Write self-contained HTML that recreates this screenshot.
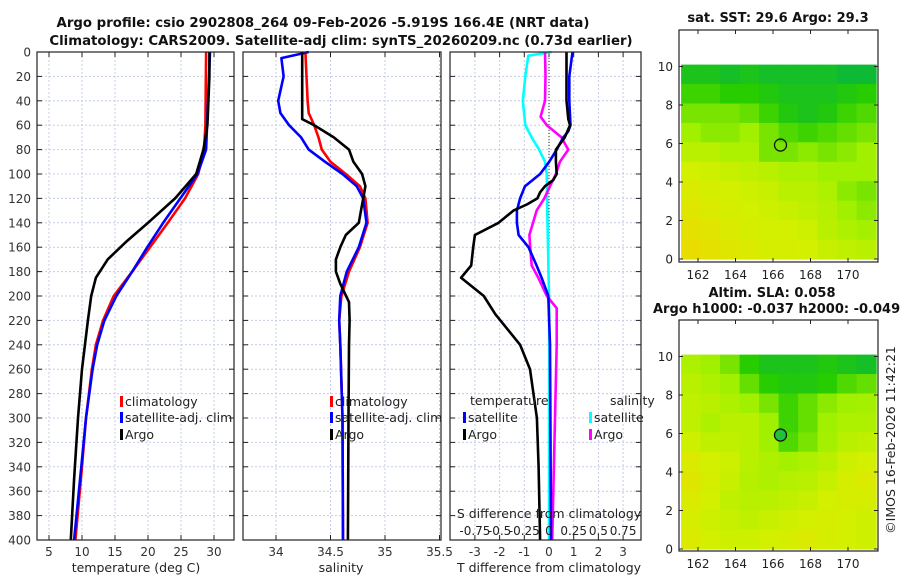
<!DOCTYPE html>
<html><head><meta charset="utf-8">
<style>
html,body{margin:0;padding:0;background:#fff;}
svg{display:block;font-family:"DejaVu Sans","Liberation Sans",sans-serif;}
</style></head>
<body>
<svg id="chart" width="900" height="580" viewBox="0 0 900 580" xmlns="http://www.w3.org/2000/svg">
<rect width="900" height="580" fill="#fff"/>
<text x="323" y="27" text-anchor="middle" font-size="13.3" font-weight="bold" fill="#111">Argo profile: csio 2902808_264 09-Feb-2026 -5.919S 166.4E (NRT data)</text>
<text x="341" y="45" text-anchor="middle" font-size="13.3" font-weight="bold" fill="#111">Climatology: CARS2009. Satellite-adj clim: synTS_20260209.nc (0.73d earlier)</text>
<g id="plots"></g>
<text x="778" y="22" text-anchor="middle" font-size="13" font-weight="bold" fill="#111">sat. SST: 29.6 Argo: 29.3</text>
<text x="772" y="297" text-anchor="middle" font-size="13" font-weight="bold" fill="#111">Altim. SLA: 0.058</text>
<text x="653" y="313" font-size="13" font-weight="bold" fill="#111">Argo h1000: -0.037 h2000: -0.049</text>
<text transform="translate(895,440) rotate(-90)" text-anchor="middle" font-size="12.5" fill="#222">©IMOS 16-Feb-2026 11:42:21</text>
</svg>
<script>
// ---------- data ----------
const depthTicks=[0,20,40,60,80,100,120,140,160,180,200,220,240,260,280,300,320,340,360,380,400];
const tTicks=[5,10,15,20,25,30];
const sTicks=[34,34.5,35,35.5];
const dtTicks=[-3,-2,-1,0,1,2,3];
const dsTickLabels=["-0.75","-0.5","-0.25","0","0.25","0.5","0.75"];
const dsTickValues=[-0.75,-0.5,-0.25,0,0.25,0.5,0.75];

const climTD=[0,60,80,100,120,140,160,180,200,220,240,260,300,340,400];
const climT=[28.8,28.7,28.5,27.6,25.6,23.0,20.3,17.6,14.8,13.2,12.1,11.5,10.6,10.0,9.0];
const satTD=[0,80,100,120,140,160,180,200,220,240,260,300,340,400];
const satT=[29.4,28.8,27.5,24.9,22.3,19.9,17.6,15.2,13.4,12.3,11.6,10.6,9.9,8.8];
const argoTD=[0,20,60,80,100,120,140,155,170,185,200,220,260,300,350,400];
const argoT=[29.3,29.3,29.0,28.4,27.3,24.1,20.0,16.8,13.9,12.1,11.4,10.9,10.0,9.4,8.8,8.3];

const climSD=[0,20,40,50,60,70,80,90,100,110,120,140,160,180,200,220,240,300,400];
const climS=[34.27,34.28,34.29,34.30,34.35,34.39,34.42,34.50,34.64,34.77,34.82,34.84,34.77,34.67,34.60,34.58,34.59,34.61,34.615];
const satSD=[0,5,20,40,50,60,70,80,90,100,110,120,140,160,180,200,220,240,300,400];
const satS=[34.30,34.05,34.07,34.02,34.04,34.12,34.23,34.30,34.45,34.61,34.74,34.80,34.83,34.76,34.65,34.59,34.58,34.59,34.61,34.615];
const argoSD=[0,20,40,55,60,70,80,90,100,110,120,140,150,160,170,180,190,205,220,240,300,400];
const argoS=[34.24,34.24,34.24,34.24,34.35,34.53,34.67,34.71,34.79,34.82,34.80,34.76,34.64,34.59,34.55,34.55,34.59,34.67,34.675,34.67,34.665,34.66];

const dTargoD=[0,20,40,55,60,70,80,90,100,105,110,115,120,125,130,140,150,160,175,185,200,215,240,260,300,340,400];
const dTargo=[0.71,0.71,0.71,0.78,0.85,0.64,0.28,0.28,0.31,0.17,-0.16,-0.36,-0.47,-0.9,-1.44,-2.04,-3.0,-3.07,-3.15,-3.56,-2.64,-2.17,-1.17,-0.77,-0.49,-0.42,-0.36];
const dTsatD=[0,20,40,60,65,70,80,90,100,110,120,130,140,150,160,175,185,200,240,400];
const dTsat=[0.95,0.82,0.82,0.87,0.78,0.58,0.31,0.01,-0.36,-0.97,-1.17,-1.30,-1.30,-1.23,-0.83,-0.5,-0.3,-0.03,0.04,0.08];
const dSsatD=[0,3,20,40,60,70,80,90,100,120,160,200,240,400];
const dSsat=[0.027,-0.21,-0.24,-0.265,-0.24,-0.175,-0.10,-0.04,-0.022,-0.02,-0.01,0,0.002,0];
const dSargoD=[0,20,40,53,60,70,75,80,90,100,110,120,130,150,160,175,185,200,210,240,400];
const dSargo=[-0.04,-0.035,-0.04,-0.085,-0.022,0.127,0.16,0.195,0.11,0.07,0.01,-0.048,-0.125,-0.198,-0.19,-0.175,-0.108,-0.022,0.078,0.078,0.032];

const mapLonTicks=[162,164,166,168,170];
const mapLatTicks=[0,2,4,6,8,10];
const sstGrid=[
[0.2,0.2,0.15,0.2,0.15,0.15,0.15,0.15,0.1,0.1],
[0.35,0.35,0.3,0.3,0.25,0.2,0.2,0.2,0.25,0.3],
[0.5,0.5,0.5,0.45,0.35,0.25,0.2,0.25,0.35,0.4],
[0.6,0.55,0.55,0.6,0.5,0.4,0.35,0.4,0.45,0.5],
[0.7,0.7,0.65,0.65,0.5,0.5,0.55,0.5,0.55,0.6],
[0.8,0.78,0.75,0.72,0.7,0.65,0.65,0.6,0.6,0.6],
[0.85,0.82,0.8,0.78,0.75,0.7,0.7,0.65,0.55,0.5],
[0.88,0.85,0.82,0.8,0.78,0.75,0.72,0.68,0.6,0.55],
[0.92,0.9,0.85,0.82,0.8,0.8,0.78,0.7,0.65,0.62],
[0.95,0.92,0.88,0.85,0.82,0.82,0.8,0.75,0.72,0.7]];
const slaGrid=[
[0.65,0.6,0.5,0.3,0.2,0.2,0.2,0.25,0.2,0.15],
[0.7,0.65,0.6,0.45,0.3,0.25,0.25,0.3,0.4,0.45],
[0.72,0.7,0.65,0.6,0.5,0.35,0.45,0.55,0.6,0.62],
[0.72,0.65,0.7,0.7,0.6,0.35,0.45,0.6,0.65,0.65],
[0.78,0.72,0.72,0.7,0.6,0.4,0.5,0.62,0.7,0.72],
[0.85,0.8,0.78,0.7,0.65,0.62,0.65,0.7,0.78,0.8],
[0.88,0.82,0.75,0.68,0.65,0.68,0.7,0.75,0.82,0.85],
[0.85,0.8,0.72,0.7,0.7,0.72,0.75,0.8,0.82,0.82],
[0.82,0.78,0.75,0.72,0.75,0.78,0.8,0.82,0.8,0.78],
[0.85,0.8,0.78,0.78,0.8,0.82,0.85,0.82,0.8,0.78]];
const argoLon=166.4, argoLat=5.919;

// ---------- drawing ----------
const NS="http://www.w3.org/2000/svg";
const root=document.getElementById('plots');
function mk(tag,attrs,parent){const e=document.createElementNS(NS,tag);for(const k in attrs)e.setAttribute(k,attrs[k]);(parent||root).appendChild(e);return e;}
const yD=d=>52+d*1.22;
const TOP=52,BOT=540;
const xT=t=>49+(t-5)*6.6;
const xS=s=>276+(s-34)*109;
const xDT=v=>549+v*24.7;
const xDS=v=>549+v*4*24.7;
const FS=12;

function panel(name,x0,x1,xticks,xf,labels,showY){
  const g=mk('g',{});
  
  
  depthTicks.forEach(d=>{
    const l=mk('line',{x1:x0,x2:x1,y1:yD(d),y2:yD(d),stroke:'#c4cbe6','stroke-width':1,'stroke-dasharray':'2,2'},g);
    
    
    mk('line',{x1:x0,x2:x0+5,y1:yD(d),y2:yD(d),stroke:'#222'},g);
    mk('line',{x1:x1-5,x2:x1,y1:yD(d),y2:yD(d),stroke:'#222'},g);
    if(showY){const t=mk('text',{x:x0-6,y:yD(d)+4.5,'text-anchor':'end','font-size':FS,fill:'#333'},g);t.textContent=d;
      
      }
  });
  xticks.forEach((v,i)=>{
    const x=xf(v);
    const l=mk('line',{x1:x,x2:x,y1:TOP,y2:BOT,stroke:'#c4cbe6','stroke-width':1,'stroke-dasharray':'2,2'},g);
    
    
    mk('line',{x1:x,x2:x,y1:BOT-5,y2:BOT,stroke:'#222'},g);
    mk('line',{x1:x,x2:x,y1:TOP,y2:TOP+5,stroke:'#222'},g);
    const t=mk('text',{x:x,y:556,'text-anchor':'middle','font-size':FS,fill:'#333'},g);t.textContent=labels[i];
    
    
  });
  return g;
}
function line(g,name,ds,vs,xf,color,extra){
  const p=mk('polyline',Object.assign({points:ds.map((d,i)=>xf(vs[i]).toFixed(1)+','+yD(d).toFixed(1)).join(' '),fill:'none',stroke:color,'stroke-width':2.6,'stroke-linejoin':'round'},extra||{}),g);
  
  
}
function frame(g,x0,x1){const r=mk('rect',{x:x0,y:TOP,width:x1-x0,height:BOT-TOP,fill:'none',stroke:'#222','stroke-width':1.2},g);
  
  }
function txt(g,name,x,y,s,anchor,size){const t=mk('text',{x:x,y:y,'text-anchor':anchor||'start','font-size':size||FS,fill:'#222'},g);t.textContent=s;
  
  return t;}
function legendItem(g,name,x,y,color,label){
  const r=mk('rect',{x:x,y:y-10,width:3,height:11,fill:color},g);
  
  
  txt(g,name,x+5,y,label,'start',12.5);
}

// Panel 1
let g1=panel('temperature-panel',37,234,tTicks,xT,tTicks.map(String),true);
line(g1,'temp-climatology-line',climTD,climT,xT,'#ff0000');
line(g1,'temp-satellite-line',satTD,satT,xT,'#0000ff');
line(g1,'temp-argo-line',argoTD,argoT,xT,'#000000');
frame(g1,37,234);
legendItem(g1,'legend-climatology',120,406,'#ff0000','climatology');
legendItem(g1,'legend-satellite-adj',120,422,'#0000ff','satellite-adj. clim');
legendItem(g1,'legend-argo',120,439,'#000','Argo');
txt(g1,'temperature-axis-title',136,572,'temperature (deg C)','middle',12.5);

// Panel 2
let g2=panel('salinity-panel',243,441,sTicks,xS,["34","34.5","35","35.5"],false);
line(g2,'sal-climatology-line',climSD,climS,xS,'#ff0000');
line(g2,'sal-satellite-line',satSD,satS,xS,'#0000ff');
line(g2,'sal-argo-line',argoSD,argoS,xS,'#000000');
frame(g2,243,441);
legendItem(g2,'legend-climatology-2',330,406,'#ff0000','climatology');
legendItem(g2,'legend-satellite-adj-2',330,422,'#0000ff','satellite-adj. clim');
legendItem(g2,'legend-argo-2',330,439,'#000','Argo');
txt(g2,'salinity-axis-title',341,572,'salinity','middle',12.5);

// Panel 3
let g3=panel('difference-panel',450,641,dtTicks,xDT,dtTicks.map(String),false);
const z=mk('line',{x1:xDT(0),x2:xDT(0),y1:TOP,y2:BOT,stroke:'#333','stroke-width':1,'stroke-dasharray':'1,2'},g3);


line(g3,'dS-satellite-line',dSsatD,dSsat,xDS,'#00ffff');
line(g3,'dS-argo-line',dSargoD,dSargo,xDS,'#ff00ff');
line(g3,'dT-satellite-line',dTsatD,dTsat,xDT,'#0000ff');
line(g3,'dT-argo-line',dTargoD,dTargo,xDT,'#000000');
frame(g3,450,641);
txt(g3,'legend-temperature-heading',470,405,'temperature','start',12.5);
txt(g3,'legend-salinity-heading',610,405,'salinity','start',12.5);
legendItem(g3,'legend-dT-satellite',463,422,'#0000ff','satellite');
legendItem(g3,'legend-dT-argo',463,439,'#000','Argo');
legendItem(g3,'legend-dS-satellite',589,422,'#00ffff','satellite');
legendItem(g3,'legend-dS-argo',589,439,'#ff00ff','Argo');
txt(g3,'s-diff-axis-title',549,518,'S difference from climatology','middle',12.5);
dsTickValues.forEach((v,i)=>{txt(g3,'s-diff-tick-label',xDS(v),535,dsTickLabels[i],'middle',12);});
txt(g3,'t-diff-axis-title',549,572,'T difference from climatology','middle',12.5);

// Maps
const MX0=679,MX1=878,LON0=161.1,LON1=171.5;
const xLon=l=>698+(l-162)*18.75;
function colorOf(v){
  const stops=[[0,[0,176,80]],[0.3,[40,205,0]],[0.6,[160,240,0]],[0.8,[210,240,0]],[1,[240,215,0]]];
  for(let i=1;i<stops.length;i++){if(v<=stops[i][0]){const a=stops[i-1],b=stops[i];const f=(v-a[0])/(b[0]-a[0]);
    return 'rgb('+a[1].map((c,k)=>Math.round(c+(b[1][k]-c)*f)).join(',')+')';}}
  return 'rgb(240,215,0)';
}
function map(name,top,bot,lat0y,grid,filled){
  const g=mk('g',{});
  
  
  const yLat=l=>lat0y-l*19.25;
  const rows=grid.length,cols=grid[0].length;
  const cw=(LON1-LON0)/cols, ch=10.1/rows;
  grid.forEach((row,r)=>row.forEach((v,c)=>{
    const lonA=LON0+c*cw, latA=10.1-r*ch;
    const x=xLon(lonA), y=yLat(latA);
    const cell=mk('rect',{x:x.toFixed(1),y:y.toFixed(1),width:(xLon(lonA+cw)-x+0.6).toFixed(1),height:(yLat(latA-ch)-y+0.6).toFixed(1),fill:colorOf(v)},g);
    
    
  }));
  const r=mk('rect',{x:MX0,y:top,width:MX1-MX0,height:bot-top,fill:'none',stroke:'#222','stroke-width':1.2},g);
  
  
  mapLonTicks.forEach(l=>{const x=xLon(l);
    mk('line',{x1:x,x2:x,y1:bot-4,y2:bot,stroke:'#222'},g);
    mk('line',{x1:x,x2:x,y1:top,y2:top+4,stroke:'#222'},g);
    txt(g,'lon-tick-label',x,bot+17,String(l),'middle',FS);});
  mapLatTicks.forEach(l=>{const y=yLat(l);
    mk('line',{x1:MX0,x2:MX0+4,y1:y,y2:y,stroke:'#222'},g);
    mk('line',{x1:MX1-4,x2:MX1,y1:y,y2:y,stroke:'#222'},g);
    txt(g,'lat-tick-label',MX0-6,y+4.5,String(l),'end',FS);});
  const c=mk('circle',{cx:xLon(argoLon),cy:yLat(argoLat),r:6,fill:filled?'#20c040':'none',stroke:'#111','stroke-width':1.3},g);
  
  
}
map('sst-map',30,262,259,sstGrid,false);
map('sla-map',320,551,549,slaGrid,true);
</script>
</body></html>
